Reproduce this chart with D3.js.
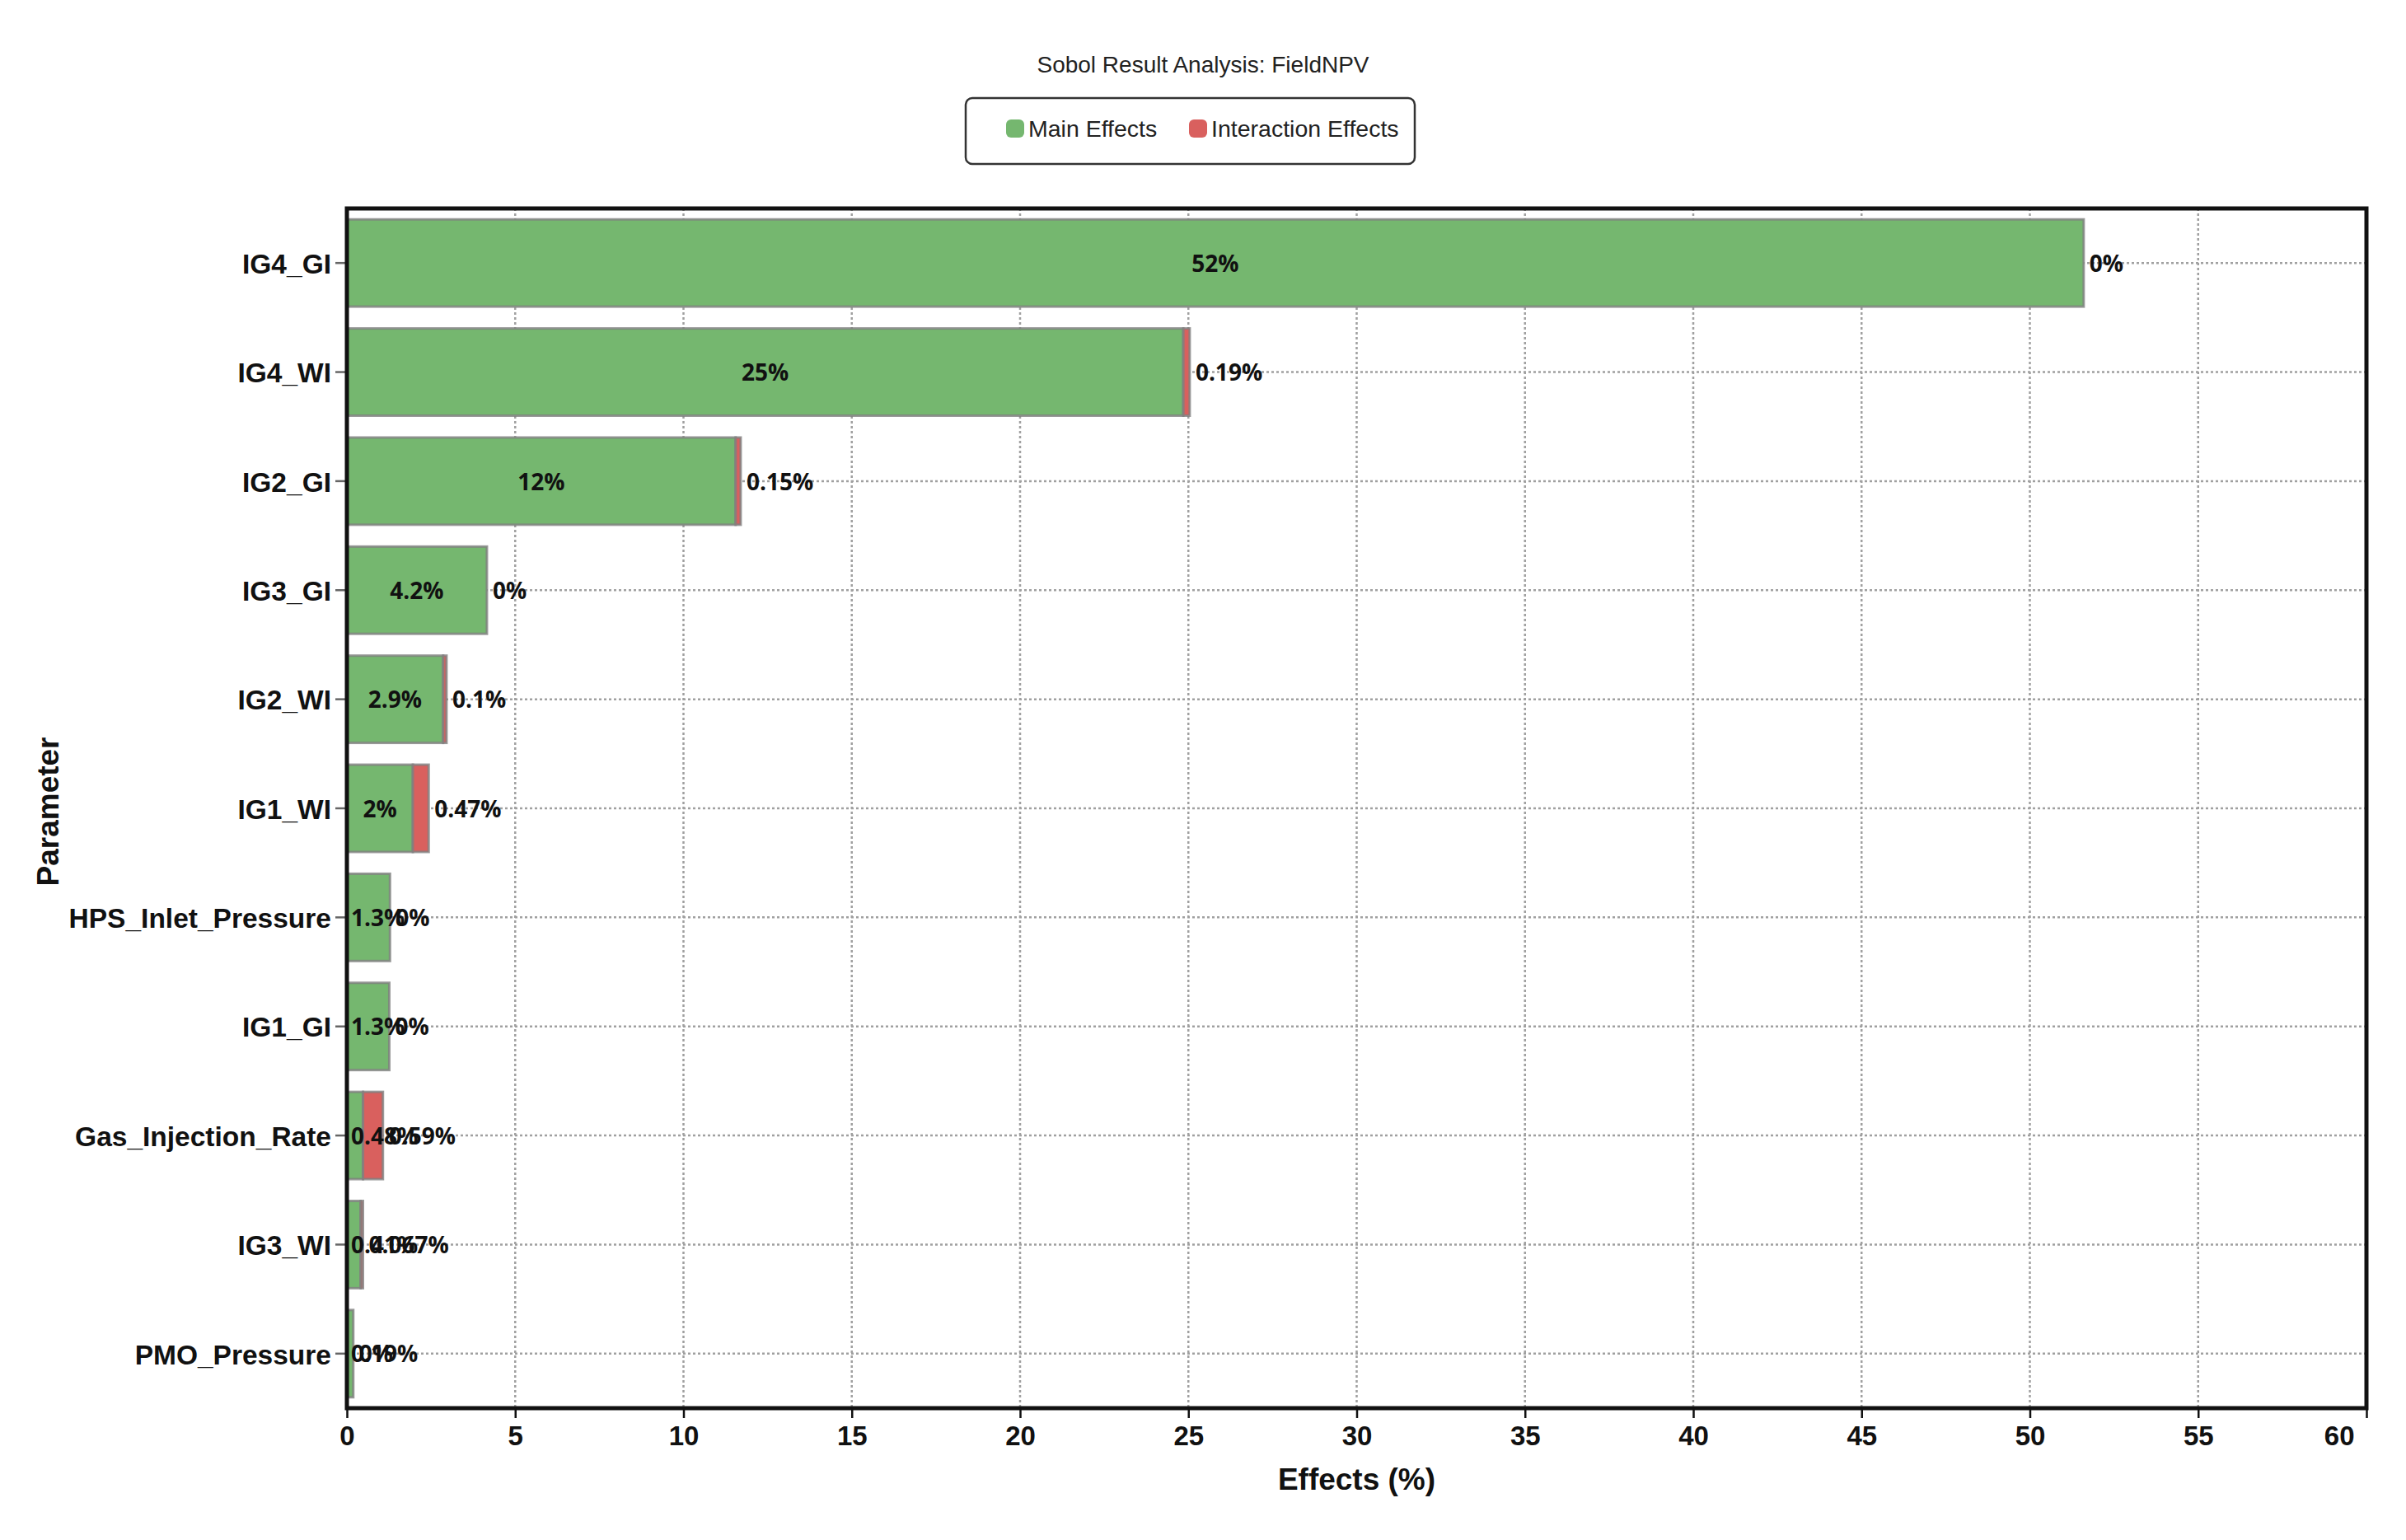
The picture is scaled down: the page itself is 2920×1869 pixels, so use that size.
<!DOCTYPE html>
<html>
<head>
<meta charset="utf-8">
<script src="https://cdn.jsdelivr.net/npm/d3@7"></script>
<style>
  body { margin: 0; background: #fff; }
</style>
</head>
<body>
<div id="chart"></div>
<script>
// Data
const parameters = ["IG4_GI", "IG4_WI", "IG2_GI", "IG3_GI", "IG2_WI", "IG1_WI",
  "HPS_Inlet_Pressure", "IG1_GI", "Gas_Injection_Rate", "IG3_WI", "PMO_Pressure"];
const mainEffects = [51.6, 24.85, 11.55, 4.16, 2.86, 1.96, 1.28, 1.26, 0.48, 0.41, 0.19];
const interactionEffects = [0, 0.19, 0.15, 0, 0.1, 0.47, 0, 0, 0.59, 0.067, 0];
const xTicks = [0, 5, 10, 15, 20, 25, 30, 35, 40, 45, 50, 55, 60];
const seriesNames = ["Main Effects", "Interaction Effects"];
const seriesColors = ["#75b76f", "#d9605e"];

const width = 2920, height = 1869;
const margin = { top: 253, right: 48, bottom: 160, left: 421 };
const plotW = width - margin.left - margin.right;
const plotH = height - margin.top - margin.bottom;

const svg = d3.select("#chart").append("svg")
  .attr("width", width)
  .attr("height", height)
  .style("font-family", "'Liberation Sans', Arial, sans-serif");

// title
svg.append("text")
  .attr("x", width / 2)
  .attr("y", 88)
  .attr("text-anchor", "middle")
  .attr("font-size", 28)
  .attr("fill", "#222")
  .text("Sobol Result Analysis: FieldNPV");

// legend
const legend = svg.append("g");
legend.append("rect")
  .attr("x", 1172).attr("y", 119)
  .attr("width", 545).attr("height", 80)
  .attr("rx", 8)
  .attr("fill", "#fff")
  .attr("stroke", "#333")
  .attr("stroke-width", 2.5);
const legendX = [1221, 1443];
seriesNames.forEach((name, i) => {
  legend.append("rect")
    .attr("x", legendX[i]).attr("y", 145)
    .attr("width", 22).attr("height", 22)
    .attr("rx", 6)
    .attr("fill", seriesColors[i]);
  legend.append("text")
    .attr("x", legendX[i] + 27)
    .attr("y", 166)
    .attr("font-size", 28.5)
    .attr("fill", "#222")
    .text(name);
});

const g = svg.append("g")
  .attr("transform", `translate(${margin.left},${margin.top})`);

const x = d3.scaleLinear().domain([0, 60]).range([0, plotW]);
const y = d3.scaleBand().domain(parameters).range([0, plotH])
  .paddingInner(0.2).paddingOuter(0.1);

const fmt = v => (+v.toPrecision(2)) + "%";

// grid
g.append("g").selectAll("line")
  .data(xTicks.slice(1, -1))
  .enter().append("line")
  .attr("x1", d => x(d)).attr("x2", d => x(d))
  .attr("y1", 0).attr("y2", plotH)
  .attr("stroke", "#a0a0a0")
  .attr("stroke-width", 2.5)
  .attr("stroke-dasharray", "3,3");

g.append("g").selectAll("line")
  .data(parameters)
  .enter().append("line")
  .attr("x1", 0).attr("x2", plotW)
  .attr("y1", d => y(d) + y.bandwidth() / 2)
  .attr("y2", d => y(d) + y.bandwidth() / 2)
  .attr("stroke", "#a0a0a0")
  .attr("stroke-width", 2.5)
  .attr("stroke-dasharray", "3,3");

// stacked bars
const rows = parameters.map((p, i) => ({
  p, main: mainEffects[i], inter: interactionEffects[i]
}));

g.append("g").selectAll("rect")
  .data(rows)
  .enter().append("rect")
  .attr("x", x(0))
  .attr("y", d => y(d.p))
  .attr("width", d => x(d.main) - x(0))
  .attr("height", y.bandwidth())
  .attr("fill", seriesColors[0])
  .attr("stroke", "#808080")
  .attr("stroke-opacity", 0.8)
  .attr("stroke-width", 3);

g.append("g").selectAll("rect")
  .data(rows)
  .enter().append("rect")
  .attr("x", d => x(d.main))
  .attr("y", d => y(d.p))
  .attr("width", d => x(d.main + d.inter) - x(d.main))
  .attr("height", y.bandwidth())
  .attr("fill", seriesColors[1])
  .attr("stroke", "#808080")
  .attr("stroke-opacity", 0.8)
  .attr("stroke-width", 3);

// bar labels
const labelFont = "'Open Sans', 'Noto Sans', sans-serif";
g.append("g").selectAll("text")
  .data(rows)
  .enter().append("text")
  .attr("y", d => y(d.p) + y.bandwidth() / 2)
  .attr("dy", "0.38em")
  .attr("font-family", labelFont)
  .attr("font-weight", 700)
  .attr("font-size", 28)
  .attr("fill", "#111")
  .text(d => fmt(d.main))
  .each(function (d) {
    const w = this.getComputedTextLength();
    const barW = x(d.main) - x(0);
    if (w + 12 <= barW) {
      d3.select(this).attr("x", x(d.main) / 2).attr("text-anchor", "middle");
    } else {
      d3.select(this).attr("x", x(0) + 5).attr("text-anchor", "start");
    }
  });

g.append("g").selectAll("text")
  .data(rows)
  .enter().append("text")
  .attr("x", d => x(d.main + d.inter) + 7)
  .attr("y", d => y(d.p) + y.bandwidth() / 2)
  .attr("dy", "0.38em")
  .attr("font-family", labelFont)
  .attr("font-weight", 700)
  .attr("font-size", 28)
  .attr("fill", "#111")
  .text(d => fmt(d.inter));

// axes
const yAxis = g.append("g")
  .call(d3.axisLeft(y).tickSize(14).tickPadding(5));
yAxis.select(".domain").remove();
yAxis.selectAll(".tick line").attr("stroke", "#666").attr("stroke-width", 2.5);
yAxis.selectAll(".tick text")
  .attr("font-family", "'Liberation Sans', Arial, sans-serif")
  .attr("font-size", 33.5)
  .attr("font-weight", 700)
  .attr("fill", "#111")
  .attr("dy", "0.38em");

const xAxis = g.append("g")
  .attr("transform", `translate(0,${plotH})`)
  .call(d3.axisBottom(x).tickValues(xTicks).tickSize(12).tickPadding(10));
xAxis.select(".domain").remove();
xAxis.selectAll(".tick line").attr("stroke", "#111").attr("stroke-width", 2.5);
xAxis.selectAll(".tick text")
  .attr("font-family", "'Liberation Sans', Arial, sans-serif")
  .attr("font-size", 33)
  .attr("font-weight", 700)
  .attr("fill", "#111");
xAxis.selectAll(".tick:last-of-type text")
  .attr("text-anchor", "end")
  .attr("x", -15);

// frame
g.append("rect")
  .attr("x", 0).attr("y", 0)
  .attr("width", plotW).attr("height", plotH)
  .attr("fill", "none")
  .attr("stroke", "#111")
  .attr("stroke-width", 5);

// axis titles
svg.append("text")
  .attr("x", margin.left + plotW / 2)
  .attr("y", 1808)
  .attr("text-anchor", "middle")
  .attr("font-size", 37)
  .attr("font-weight", 700)
  .attr("fill", "#111")
  .text("Effects (%)");

svg.append("text")
  .attr("transform", `translate(71,${margin.top + plotH / 2 + 4}) rotate(-90)`)
  .attr("text-anchor", "middle")
  .attr("font-size", 37)
  .attr("font-weight", 700)
  .attr("fill", "#111")
  .text("Parameter");
</script>
</body>
</html>
